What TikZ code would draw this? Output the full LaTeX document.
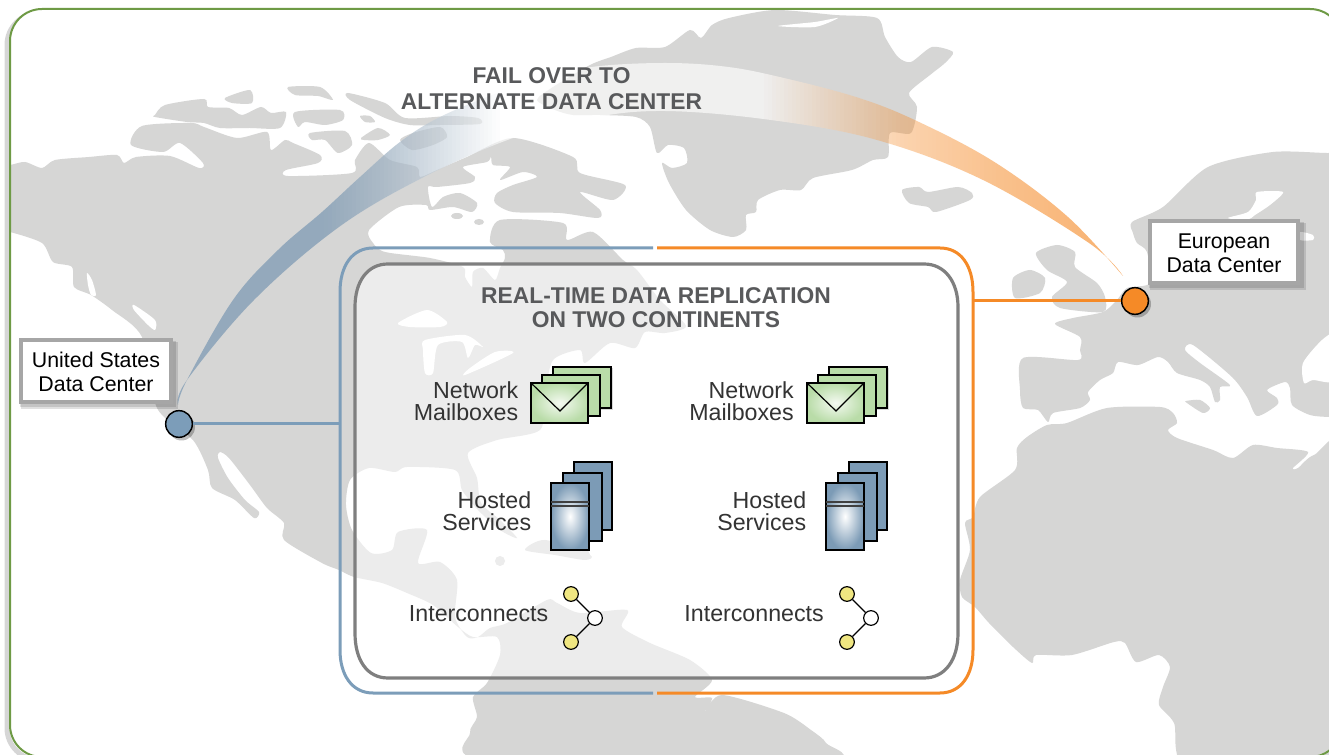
\documentclass[tikz,border=0pt]{standalone}
\usepackage{fontspec}
\setmainfont{Liberation Sans}
\definecolor{land}{HTML}{D6D6D5}
\definecolor{framegreen}{HTML}{6E9A45}
\definecolor{arcblue}{HTML}{94A9BC}
\definecolor{bluel}{HTML}{7C9DB9}
\definecolor{orangel}{HTML}{F58A27}
\definecolor{panelgray}{HTML}{7F7F7F}
\definecolor{headgray}{HTML}{58595B}
\definecolor{txt}{HTML}{333333}
\definecolor{mailg}{HTML}{B9DCA8}
\definecolor{servb}{HTML}{7C9BB6}
\definecolor{yel}{HTML}{EFE681}
\tikzset{
  px/.style={line width=#1*0.75pt},
  landfill/.style={fill=land,draw=none},
  hole/.style={fill=white,draw=none},
  lab/.style={font=\fontsize{16}{18}\selectfont,text=black,align=center,inner sep=0pt},
  head/.style={font=\fontsize{17.1}{19.5}\selectfont\bfseries,text=headgray,align=center,inner sep=0pt},
  item/.style={font=\fontsize{17.4}{16.5}\selectfont,text=txt,align=right,inner sep=0pt,anchor=east},
  iconline/.style={draw=black,line width=0.9pt},
  dcbox/.style={draw=white!65!black,fill=white,line width=3pt,inner sep=0pt},
  dcdot/.style={circle,draw=black,line width=1.1pt,minimum size=20pt,inner sep=0pt},
  hub/.style={circle,draw=black,line width=0.9pt,minimum size=11pt,inner sep=0pt},
  sm/.style={smooth cycle,tension=0.45}
}
\newcommand{\mailicon}{%
  \fill[gray,opacity=.3] (554,368) rectangle (613,410);
  \draw[iconline,fill=mailg] (553,367) rectangle (611,408);
  \draw[iconline,fill=mailg] (542,375) rectangle (600,416);
  \shade[iconline,inner color=white!85!mailg,outer color=mailg] (531,383) rectangle (588,423);
  \draw[iconline] (531,383) -- (560,411) -- (588,383);
}
\newcommand{\servicon}{%
  \draw[iconline,fill=servb] (574,462) rectangle (612,530);
  \draw[iconline,fill=servb] (563,473) rectangle (602,541);
  \shade[iconline,inner color=white,outer color=servb] (551,483) rectangle (589,550);
  \draw[draw=black!75,line width=1pt] (551,502) -- (589,502);
  \draw[draw=black!75,line width=1pt] (551,506) -- (589,506);
}
\begin{document}
\begin{tikzpicture}[x=0.75pt,y=-0.75pt]
\useasboundingbox (0,0) rectangle (1329,755);
\fill[white] (0,0) rectangle (1329,755);
% frame soft shadow
\draw[black!45,px=5,opacity=.35,rounded corners=24pt] (7,13) rectangle (1344,760);
\fill[white,rounded corners=24pt] (10,9) rectangle (1342,757);
\begin{scope}
\clip[rounded corners=24pt] (10,9) rectangle (1342,757);
% Americas
\path[landfill] plot[sm] coordinates {
(0,165)(10,165)(25,162)(42,168)(55,160)(89,157)(117,155)(124,163)(136,157)(170,156)(199,168)(203,163)(180,143)(163,152)(131,145)(142,126)(191,123)(204,127)(237,138)(267,132)(271,150)(285,140)(293,143)(320,155)(318,163)(286,170)(288,176)(352,173)(355,160)(369,143)(390,160)(417,167)(420,177)(437,170)(467,157)(513,138)(573,157)(580,173)(625,185)(613,200)(580,192)(600,210)(598,218)(560,213)(513,212)(495,203)(497,193)(513,185)(537,177)(523,172)(500,180)(510,167)(493,165)(491,157)(487,162)(463,167)(475,177)(470,183)(437,187)(428,187)(432,207)(443,197)(460,193)(477,203)(472,212)(453,207)(430,210)(426,205)(399,207)(369,230)(373,243)(385,252)(430,258)(463,267)(465,277)(472,287)(473,272)(483,268)(495,280)(500,268)(505,258)(503,250)(490,242)(500,220)(563,223)(567,240)(593,232)(623,260)(637,270)(660,300)(686,326)(665,333)(645,332)(635,348)(610,343)(585,363)(580,350)(553,360)(545,395)(540,430)(497,440)(468,453)(477,478)(481,503)(500,520)(517,538)(500,530)(478,510)(462,490)(455,470)(407,467)(395,472)(369,468)(350,480)(346,505)(352,530)(371,553)(392,550)(398,532)(427,530)(418,563)(440,562)(457,580)(455,617)(467,637)(478,637)(490,628)(507,623)(547,600)(557,603)(580,613)(627,610)(622,627)(650,643)(690,660)(712,680)(695,697)(712,698)(705,712)(722,695)(784,713)(811,730)(826,743)(824,760)(487,760)(470,733)(477,717)(473,697)(487,683)(500,655)(497,637)(473,637)(458,627)(433,605)(407,593)(382,583)(354,577)(339,570)(322,563)(284,540)(284,523)(267,508)(250,485)(229,458)(220,452)(218,458)(228,478)(245,500)(259,512)(254,518)(235,500)(212,488)(208,470)(193,440)(157,408)(142,337)(112,310)(91,295)(74,287)(72,267)(53,262)(42,243)(10,232)(0,232)};
% Arctic islands
\path[landfill] plot[sm] coordinates {(155,115)(165,105)(204,99)(208,107)(229,108)(242,115)(261,107)(271,113)(286,112)(280,128)(250,128)(220,128)(204,123)(187,122)(155,117)};
\path[landfill] plot[sm] coordinates {(225,98)(250,90)(252,103)(232,103)};
\path[landfill] plot[sm] coordinates {(288,87)(320,87)(333,100)(318,96)(295,95)};
\path[landfill] plot[sm] coordinates {(295,112)(340,110)(343,120)(325,125)(305,122)(298,127)};
\path[landfill] plot[sm] coordinates {(310,133)(345,131)(352,145)(338,153)(325,140)(312,140)};
\path[landfill] plot[sm] coordinates {(360,116)(370,116)(375,122)(365,122)};
\path[landfill] plot[sm] coordinates {(361,138)(378,128)(390,135)(378,140)(364,140)};
\path[landfill] plot[sm] coordinates {(348,93)(385,103)(405,118)(450,116)(478,118)(480,124)(440,125)(410,125)(385,118)(350,100)};
\path[landfill] plot[sm] coordinates {(400,140)(413,133)(440,127)(447,137)(433,145)(412,150)};
\path[landfill] (457,216) ellipse (6 and 3);
\path[landfill] (479,222) ellipse (5 and 3);
% Greenland
\path[landfill] plot[sm] coordinates {(537,100)(553,87)(590,65)(611,57)(636,48)(665,47)(690,30)(701,38)(712,25)(729,18)(775,10)(835,15)(877,18)(885,37)(898,57)(911,62)(932,47)(953,52)(945,63)(930,75)(909,93)(917,107)(911,133)(890,133)(888,157)(873,160)(852,170)(813,178)(801,190)(780,190)(758,200)(756,212)(746,215)(746,230)(733,237)(710,230)(686,210)(669,183)(662,163)(672,168)(687,163)(684,148)(668,145)(657,153)(650,127)(636,117)(600,115)(573,115)(555,110)};
\path[hole] plot[sm] coordinates {(778,26)(815,22)(838,18)(815,27)};
% Iceland
\path[landfill] plot[sm] coordinates {(902,190)(919,187)(928,192)(958,187)(972,193)(970,200)(936,212)(928,207)(909,203)};
% Ireland and Britain
\path[landfill] plot[sm] coordinates {(1013,278)(1030,270)(1045,278)(1040,293)(1015,298)};
\path[landfill] plot[sm] coordinates {(1036,253)(1057,245)(1075,252)(1075,267)(1097,283)(1105,297)(1103,312)(1060,308)(1052,297)(1067,282)(1047,270)};
% Eurasia
\path[landfill] plot[sm] coordinates {(1350,150)(1329,153)(1273,152)(1208,167)(1163,207)(1132,222)(1133,233)(1137,243)(1147,252)(1150,283)(1127,288)(1117,300)(1103,312)(1073,318)(1055,324)(1080,337)(1080,350)(1078,360)(1023,358)(1020,390)(1023,408)(1038,410)(1048,422)(1053,413)(1080,408)(1090,400)(1088,392)(1100,380)(1113,373)(1118,362)(1138,365)(1158,357)(1168,362)(1177,373)(1200,380)(1210,387)(1215,402)(1220,400)(1220,387)(1230,385)(1200,363)(1185,350)(1193,345)(1232,377)(1247,397)(1257,416)(1277,405)(1277,398)(1267,390)(1285,382)(1290,388)(1292,405)(1310,415)(1329,417)(1350,417)};
\path[hole] plot[sm] coordinates {(1303,363)(1322,340)(1335,335)(1335,380)(1313,380)(1304,383)};
\path[hole] plot[sm] coordinates {(1257,192)(1283,192)(1270,205)(1255,215)(1247,220)(1228,218)(1248,212)(1256,200)};
\path[hole] plot[sm] coordinates {(1300,232)(1313,235)(1313,240)(1300,240)};
\path[hole] (1158,387) ellipse (7 and 7.5);
\path[hole] (1112,388) ellipse (3.5 and 2.5);
\path[landfill] plot[sm] coordinates {(1186,401)(1200,400)(1210,408)(1203,413)(1187,403)};
% Africa
\path[landfill] plot[sm] coordinates {(960,580)(970,550)(965,523)(973,517)(980,497)(1015,470)(1017,448)(1027,437)(1047,425)(1067,423)(1107,408)(1160,407)(1173,413)(1177,423)(1168,430)(1177,438)(1213,450)(1233,458)(1253,445)(1277,448)(1308,452)(1293,468)(1298,468)(1314,455)(1350,452)(1350,770)(1191,770)(1174,723)(1159,705)(1163,687)(1170,667)(1159,655)(1136,662)(1125,643)(1114,642)(1072,655)(1036,655)(1032,663)(1013,647)(989,623)(975,607)(962,597)};
% Americas holes
\path[hole] plot[sm] coordinates {(87,273)(92,280)(96,295)(91,295)(88,285)};
\path[hole] plot[sm] coordinates {(134,305)(155,320)(155,330)(148,325)(134,310)};
\path[hole] plot[sm] coordinates {(398,323)(427,310)(447,322)(440,327)(410,327)};
\path[hole] plot[sm] coordinates {(425,340)(465,335)(483,347)(475,345)(468,358)(462,342)(438,345)(433,373)(425,373)(423,350)};
\path[hole] plot[sm] coordinates {(465,375)(513,353)(495,352)(470,368)};
\path[landfill] plot[sm] coordinates {(525,550)(545,540)(590,555)(585,560)(555,555)};
\path[landfill] (500,561) ellipse (5 and 5);
\path[landfill] (585,555) ellipse (5 and 5);
\end{scope}
% Fail-over arc
\begin{scope}
\clip plot[smooth,tension=0.6] coordinates {(178,405)(187,380)(233,300)(278,250)(322,212)(360,177)(400,142)(440,117)(500,92)(550,75)(600,66)(665,63)(720,66)(771,75)(856,97)(919,122)(996,163)(1068,217)(1123,276)} -- plot[smooth,tension=0.6] coordinates {(1123,276)(1089,243)(983,180)(877,140)(771,120)(665,111)(590,118)(513,138)(424,177)(339,227)(254,300)(187,380)(178,405)} -- cycle;
\foreach \xx in {176,180,...,1124}{
  \pgfmathsetmacro{\aw}{0.64*max(0,min(1,(\xx-320)/180,(900-\xx)/140))}
  \pgfmathsetmacro{\ab}{max(0,min(1,(500-\xx)/180))}
  \pgfmathsetmacro{\ao}{max(0,min((\xx-760)*.00264,.37+(\xx-900)*.0016,.53+(\xx-1000)*.0011))}
  \fill[white,fill opacity=\aw] (\xx,0) rectangle (\xx+4,500);
  \fill[arcblue,fill opacity=\ab] (\xx,0) rectangle (\xx+4,500);
  \fill[orangel,fill opacity=\ao] (\xx,0) rectangle (\xx+4,500);
}
\end{scope}
% inner panel
\path[fill=white,fill opacity=.55] (388,264) -- (924,264) .. controls (945,264) and (958,282) .. (958,307) -- (958,633) .. controls (958,660) and (945,678) .. (924,678) -- (388,678) .. controls (367,678) and (355,660) .. (355,633) -- (355,307) .. controls (355,282) and (367,264) .. (388,264) -- cycle;
\draw[panelgray,px=3.2] (388,264) -- (924,264) .. controls (945,264) and (958,282) .. (958,307) -- (958,633) .. controls (958,660) and (945,678) .. (924,678) -- (388,678) .. controls (367,678) and (355,660) .. (355,633) -- (355,307) .. controls (355,282) and (367,264) .. (388,264) -- cycle;
% outer blue and orange brackets
\draw[bluel,px=3] (653,248) -- (373,248) .. controls (352,248) and (340,266) .. (340,292) -- (340,650) .. controls (340,675) and (352,693) .. (373,693) -- (653,693);
\draw[orangel,px=3] (657,248) -- (940,248) .. controls (961,248) and (973,266) .. (973,292) -- (973,650) .. controls (973,675) and (961,693) .. (940,693) -- (657,693);
\coordinate (bluejoin) at (340,424);
\coordinate (orangejoin) at (973,301);
% frame
\draw[framegreen,px=2,rounded corners=24pt] (10,9) rectangle (1342,757);
% shadows of boxes and dots
\fill[black,opacity=.12] (21,342) rectangle (178,409);
\fill[black,opacity=.12] (20,341) rectangle (176,407);
\fill[black,opacity=.12] (1150,223) rectangle (1306,290);
\fill[black,opacity=.12] (1149,222) rectangle (1304,288);
\fill[black,opacity=.25] (181.5,427) circle (13.5);
\fill[black,opacity=.25] (1137.5,304) circle (13.5);
% data-centre dots and connectors
\node[dcdot,fill=bluel] (usdot) at (179,424) {};
\node[dcdot,fill=orangel] (eudot) at (1135,301) {};
\draw[bluel,px=3] (usdot) -- (bluejoin);
\draw[orangel,px=3] (eudot) -- (orangejoin);
\node[dcbox,minimum width=112.5pt,minimum height=46.5pt] (usbox) at (95.5,371) {};
\node[dcbox,minimum width=111pt,minimum height=46.5pt] (eubox) at (1224,252) {};
\node[lab] (ustext) at (96,372) {United States\\Data Center};
\node[lab] (eutext) at (1224,253) {European\\Data Center};
% headings
\node[head] (failtext) at (551.5,89) {FAIL OVER TO\\ALTERNATE DATA CENTER};
\node[head,font=\fontsize{17.1}{18}\selectfont\bfseries] (realtext) at (656,308) {REAL-TIME DATA REPLICATION\\ON TWO CONTINENTS};
% left column
\mailicon
\servicon
\node[item] (mailA) at (518.5,401) {Network\\Mailboxes};
\node[item] (hostA) at (531.5,511) {Hosted\\Services};
\node[item] (intA) at (548.5,614) {Interconnects};
\node[hub,fill=yel] (yA1) at (571,594) {};
\node[hub,fill=yel] (yA2) at (571,642) {};
\node[hub,fill=white] (wA) at (595,618) {};
\draw[iconline] (yA1) -- (wA);
\draw[iconline] (yA2) -- (wA);
% right column
\begin{scope}[shift={(276,0)}]\mailicon\end{scope}
\begin{scope}[shift={(275,0)}]\servicon\end{scope}
\node[item] (mailB) at (794,401) {Network\\Mailboxes};
\node[item] (hostB) at (806.5,511) {Hosted\\Services};
\node[item] (intB) at (824,614) {Interconnects};
\node[hub,fill=yel] (yB1) at (847,594) {};
\node[hub,fill=yel] (yB2) at (847,642) {};
\node[hub,fill=white] (wB) at (871,618) {};
\draw[iconline] (yB1) -- (wB);
\draw[iconline] (yB2) -- (wB);
\end{tikzpicture}
\end{document}
